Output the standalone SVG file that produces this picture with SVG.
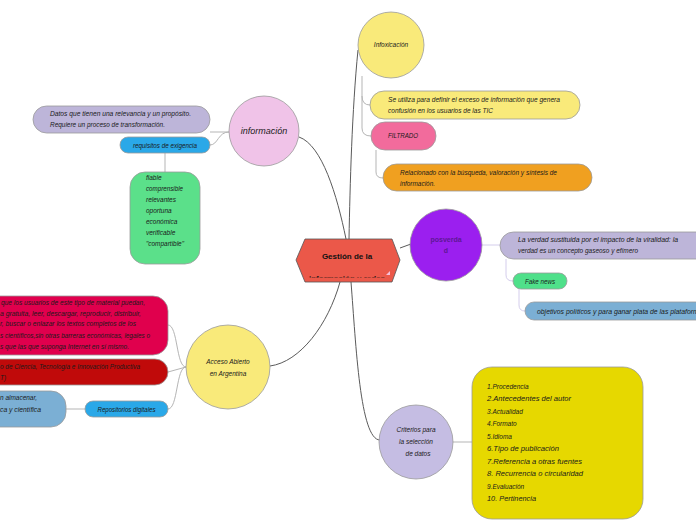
<svg xmlns="http://www.w3.org/2000/svg" width="696" height="520" viewBox="0 0 696 520">
<defs>
<style>
.t{font-family:"Liberation Sans",Arial,sans-serif;font-style:italic;font-size:6.5px;fill:#1a1a1a}
.tc{text-anchor:middle}
.n{stroke:#9a9a9a;stroke-width:0.8}
.c{fill:none;stroke:#5a5a5a;stroke-width:1}
.cl{fill:none;stroke:#b5b5b5;stroke-width:1}
.cv{fill:none;stroke:#d4cdec;stroke-width:1}
.b{font-family:"Liberation Sans",Arial,sans-serif;font-weight:bold;text-anchor:middle}
</style>
<clipPath id="hexclip"><rect x="296" y="239" width="104" height="38.5"/></clipPath>
</defs>
<rect width="696" height="520" fill="#ffffff"/>
<g id="connectors">
<path class="c" d="M299,137 C322,145 337,195 346,239"/>
<path class="c" d="M358,50 C352,110 350,185 349,239"/>
<path class="c" d="M400,248 L411,244"/>
<path class="c" d="M340,282 C328,325 300,362 270,366"/>
<path class="c" d="M351,282 C356,345 360,440 380,440"/>
<path class="cl" d="M210,132 L229,132"/>
<path class="cl" d="M229,132 C218,132 218,145 210,145"/>
<path class="cl" d="M165,153 L165,172"/>
<path class="cl" d="M362,76 L362,96 Q362,105 370,105"/>
<path class="cl" d="M362,96 L362,128 Q362,136 371,136"/>
<path class="cl" d="M376,150 L376,172 Q376,178 383,178"/>
<path class="cv" d="M482,245 L500,245"/>
<path class="cv" d="M506,259 L506,275 Q506,281 513,281"/>
<path class="cv" d="M519,289 L519,305 Q519,311 525,311"/>
<path class="cl" d="M453,442 L472,442"/>
<path class="cl" d="M186,367 C176,367 178,325 168,325"/>
<path class="cl" d="M186,367 L168,372"/>
<path class="cl" d="M186,367 C176,367 178,409 168,409"/>
<path class="cl" d="M85,409 L66,409"/>
</g>
<g id="central">
<polygon points="296,260 305,239 392,239 400,260 392,282 305,282" fill="#EB5849" stroke="#555" stroke-width="0.8"/>
<text class="b" x="347" y="259" style="font-size:8px;fill:#111">Gestión de la</text>
<text class="b" x="347" y="281" clip-path="url(#hexclip)" style="font-size:8px;fill:#111">información y redes</text>
<polygon points="386,275 390,271 390,275" fill="#f4c0d8"/>
</g>
<g id="informacion">
<circle class="n" cx="264" cy="131" r="35" fill="#F0C3E8"/>
<text class="t tc" x="264" y="134" style="font-size:9px">información</text>
</g>
<g id="datos">
<rect class="n" x="33" y="106" width="177" height="27" rx="13.5" fill="#BDB5D9"/>
<text class="t" x="50" y="116" textLength="141" lengthAdjust="spacingAndGlyphs">Datos que tienen una relevancia y un propósito.</text>
<text class="t" x="50" y="127" textLength="115" lengthAdjust="spacingAndGlyphs">Requiere un proceso de transformación.</text>
</g>
<g id="requisitos">
<rect class="n" x="120" y="137" width="90" height="16" rx="8" fill="#2AA8E8"/>
<text class="t" x="133" y="147.5" textLength="64" lengthAdjust="spacingAndGlyphs">requisitos de exigencia</text>
</g>
<g id="cualidades">
<rect class="n" x="130" y="172" width="70" height="92" rx="15" fill="#5BE08A"/>
<text class="t" x="146" y="180">fiable</text>
<text class="t" x="146" y="191" textLength="37" lengthAdjust="spacingAndGlyphs">comprensible</text>
<text class="t" x="146" y="201.5">relevantes</text>
<text class="t" x="146" y="212.5">oportuna</text>
<text class="t" x="146" y="224">económica</text>
<text class="t" x="146" y="235">verificable</text>
<text class="t" x="146" y="246" textLength="38" lengthAdjust="spacingAndGlyphs">"compartible"</text>
</g>
<g id="infoxicacion">
<circle class="n" cx="391" cy="45" r="33" fill="#F9EA7A"/>
<text class="t tc" x="391" y="47">Infoxicación</text>
</g>
<g id="se-utiliza">
<rect class="n" x="370" y="91" width="210" height="28" rx="14" fill="#F9EA7A"/>
<text class="t" x="388" y="102" textLength="172" lengthAdjust="spacingAndGlyphs">Se utiliza para definir el exceso de información que genera</text>
<text class="t" x="388" y="113" textLength="105" lengthAdjust="spacingAndGlyphs">confusión en los usuarios de las TIC</text>
</g>
<g id="filtrado">
<rect class="n" x="371" y="122" width="65" height="28" rx="14" fill="#F26B9C"/>
<text class="t" x="388" y="138" textLength="30" lengthAdjust="spacingAndGlyphs">FILTRADO</text>
</g>
<g id="relacionado">
<rect class="n" x="383" y="164" width="209" height="27" rx="13.5" fill="#F0A020"/>
<text class="t" x="400" y="175" textLength="157" lengthAdjust="spacingAndGlyphs">Relacionado con la búsqueda, valoración y síntesis de</text>
<text class="t" x="400" y="186" textLength="35" lengthAdjust="spacingAndGlyphs">información.</text>
</g>
<g id="posverdad">
<circle class="n" cx="446" cy="245" r="36" fill="#9B1FEF"/>
<text class="b" x="446" y="242" style="font-size:7px;fill:#5e1796">posverda</text>
<text class="b" x="446" y="253" style="font-size:7px;fill:#5e1796">d</text>
</g>
<g id="la-verdad">
<rect class="n" x="500" y="232" width="210" height="27" rx="13.5" fill="#BDB5D9"/>
<text class="t" x="518" y="242" textLength="160" lengthAdjust="spacingAndGlyphs">La verdad sustituida por el impacto de la viralidad: la</text>
<text class="t" x="518" y="253" textLength="120" lengthAdjust="spacingAndGlyphs">verdad es un concepto gaseoso y efímero</text>
</g>
<g id="fake-news">
<rect class="n" x="513" y="273" width="54" height="16" rx="8" fill="#4FE08A"/>
<text class="t" x="525" y="283.5" textLength="30" lengthAdjust="spacingAndGlyphs">Fake news</text>
</g>
<g id="objetivos">
<rect class="n" x="525" y="302" width="190" height="18" rx="9" fill="#7BAFD4"/>
<text class="t" x="537" y="313.5" textLength="169" lengthAdjust="spacingAndGlyphs">objetivos políticos y para ganar plata de las plataformas</text>
</g>
<g id="acceso">
<circle class="n" cx="228" cy="367" r="42" fill="#F9EA7A"/>
<text class="t tc" x="228" y="364">Acceso Abierto</text>
<text class="t tc" x="228" y="376">en Argentina</text>
</g>
<g id="significa">
<rect class="n" x="-40" y="296" width="208" height="59" rx="15" fill="#E0004D"/>
<text class="t" x="1" y="305" textLength="144" lengthAdjust="spacingAndGlyphs">que los usuarios de este tipo de material puedan,</text>
<text class="t" x="0" y="315.5" textLength="141" lengthAdjust="spacingAndGlyphs">a gratuita, leer, descargar, reproducir, distribuir,</text>
<text class="t" x="0" y="326" textLength="136" lengthAdjust="spacingAndGlyphs">r, buscar o enlazar los textos completos de los</text>
<text class="t" x="0" y="337.5" textLength="150" lengthAdjust="spacingAndGlyphs">s científicos,sin otras barreras económicas, legales o</text>
<text class="t" x="0" y="349" textLength="129" lengthAdjust="spacingAndGlyphs">s que las que suponga Internet en sí mismo.</text>
</g>
<g id="mincyt">
<rect class="n" x="-40" y="359" width="208" height="26" rx="13" fill="#C00A0A"/>
<text class="t" x="0" y="369" textLength="140" lengthAdjust="spacingAndGlyphs">o de Ciencia, Tecnología e Innovación Productiva</text>
<text class="t" x="0" y="380">T)</text>
</g>
<g id="almacenar">
<rect class="n" x="-40" y="391" width="106" height="36" rx="15" fill="#7BAFD4"/>
<text class="t" x="0" y="400" textLength="37" lengthAdjust="spacingAndGlyphs">n almacenar,</text>
<text class="t" x="0" y="411.5" textLength="41" lengthAdjust="spacingAndGlyphs">ca y científica</text>
</g>
<g id="repositorios">
<rect class="n" x="85" y="401" width="83" height="16" rx="8" fill="#2AA8E8"/>
<text class="t tc" x="126.5" y="411.5" textLength="58" lengthAdjust="spacingAndGlyphs">Repositorios digitales</text>
</g>
<g id="criterios">
<circle class="n" cx="416" cy="442" r="37" fill="#C5BDE3"/>
<text class="t tc" x="416" y="432">Criterios para</text>
<text class="t tc" x="416" y="444">la selección</text>
<text class="t tc" x="418" y="456">de datos</text>
</g>
<g id="lista">
<rect class="n" x="472" y="367" width="171" height="152" rx="20" fill="#E6D800"/>
<text class="t" x="487" y="389">1.Procedencia</text>
<text class="t" x="487" y="401" textLength="84" lengthAdjust="spacingAndGlyphs">2.Antecedentes del autor</text>
<text class="t" x="487" y="413.5">3.Actualidad</text>
<text class="t" x="487" y="426">4.Formato</text>
<text class="t" x="487" y="438.5">5.Idioma</text>
<text class="t" x="487" y="451" textLength="72" lengthAdjust="spacingAndGlyphs">6.Tipo de publicación</text>
<text class="t" x="487" y="463.5" textLength="95" lengthAdjust="spacingAndGlyphs">7.Referencia a otras fuentes</text>
<text class="t" x="487" y="475.5" textLength="96" lengthAdjust="spacingAndGlyphs">8. Recurrencia o circularidad</text>
<text class="t" x="487" y="488.5">9.Evaluación</text>
<text class="t" x="487" y="501" textLength="49" lengthAdjust="spacingAndGlyphs">10. Pertinencia</text>
</g>
</svg>
